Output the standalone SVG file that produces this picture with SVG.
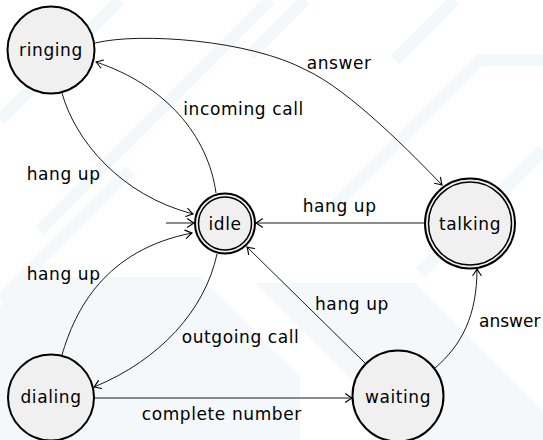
<svg xmlns="http://www.w3.org/2000/svg" width="543" height="440" viewBox="0 0 543 440">
<defs>
<marker id="arr" markerWidth="12" markerHeight="12" refX="0" refY="0" viewBox="-8 -6 10 12" orient="auto" markerUnits="userSpaceOnUse">
<path d="M-6.5,-4.2 Q-2.2,-1.2 0,0 Q-2.2,1.2 -6.5,4.2" fill="none" stroke="#000" stroke-width="1.1" stroke-linecap="round"/>
</marker>
</defs>
<style>
.bg{fill:none;stroke:#f3f8fb;stroke-width:12}
.bgf{fill:#f4f8fb;stroke:none}
.node{fill:#f0f0f0;stroke:#000;stroke-width:2}
.dbl{fill:none;stroke:#000;stroke-width:1.5}
.edge{fill:none;stroke:#000;stroke-width:0.9;marker-end:url(#arr)}
text{font-family:"DejaVu Sans","Liberation Sans",sans-serif;font-size:17px;letter-spacing:0.6px;fill:#000}
.c{text-anchor:middle}
</style>
<rect width="543" height="440" fill="#fff"/>
<g id="background">
<polygon class="bgf" points="30,277 200,277 300,377 300,440 0,440 0,307"/>
<polygon class="bgf" points="255,283 415,283 543,411 543,440 412,440"/>
<path class="bg" d="M0,120 L120,0 M40,230 L270,0 M0,300 L130,170 M250,55 L305,0 M395,60 L455,0 M543,60 L480,60 L330,210 M543,150 L420,273"/>
</g>
<g id="connectors">
<path class="edge" d="M166,223 L194,223"/>
<path class="edge" d="M62,93 C75,140 120,195 193,214"/>
<path class="edge" d="M216,193 C208,135 165,85 96,62"/>
<path class="edge" d="M95,43 C140,32 250,40 306,70 C350,90 415,157 442,185"/>
<path class="edge" d="M425,223 L256,223"/>
<path class="edge" d="M62,355 C75,310 105,250 192,233"/>
<path class="edge" d="M217,254 C205,310 160,360 94,387"/>
<path class="edge" d="M94,398 L352,398"/>
<path class="edge" d="M365,363 L247,247"/>
<path class="edge" d="M435,368 C462,345 477,315 477,269"/>
</g>
<g id="labels">
<text x="306.7" y="69.3">answer</text>
<text x="183.3" y="115">incoming call</text>
<text x="26.7" y="180">hang up</text>
<text x="302.7" y="211.7">hang up</text>
<text x="26.7" y="280">hang up</text>
<text x="315" y="310">hang up</text>
<text x="479" y="327.3" style="letter-spacing:0">answer</text>
<text x="181.7" y="343.3">outgoing call</text>
<text x="141.7" y="420">complete number</text>
</g>
<g id="ringing">
<circle class="node" cx="51" cy="50" r="43.5"/>
<text class="c" x="51" y="56">ringing</text>
</g>
<g id="idle">
<circle class="node" cx="225" cy="223.5" r="30"/>
<circle class="dbl" cx="225" cy="223.5" r="26.5"/>
<text class="c" x="225" y="230">idle</text>
</g>
<g id="talking">
<circle class="node" cx="470" cy="223.5" r="45"/>
<circle class="dbl" cx="470" cy="223.5" r="41.5"/>
<text class="c" x="470" y="229.5">talking</text>
</g>
<g id="dialing">
<circle class="node" cx="51" cy="397.5" r="43"/>
<text class="c" x="51" y="403">dialing</text>
</g>
<g id="waiting">
<circle class="node" cx="398" cy="396" r="45.5"/>
<text class="c" x="398" y="403">waiting</text>
</g>
</svg>
